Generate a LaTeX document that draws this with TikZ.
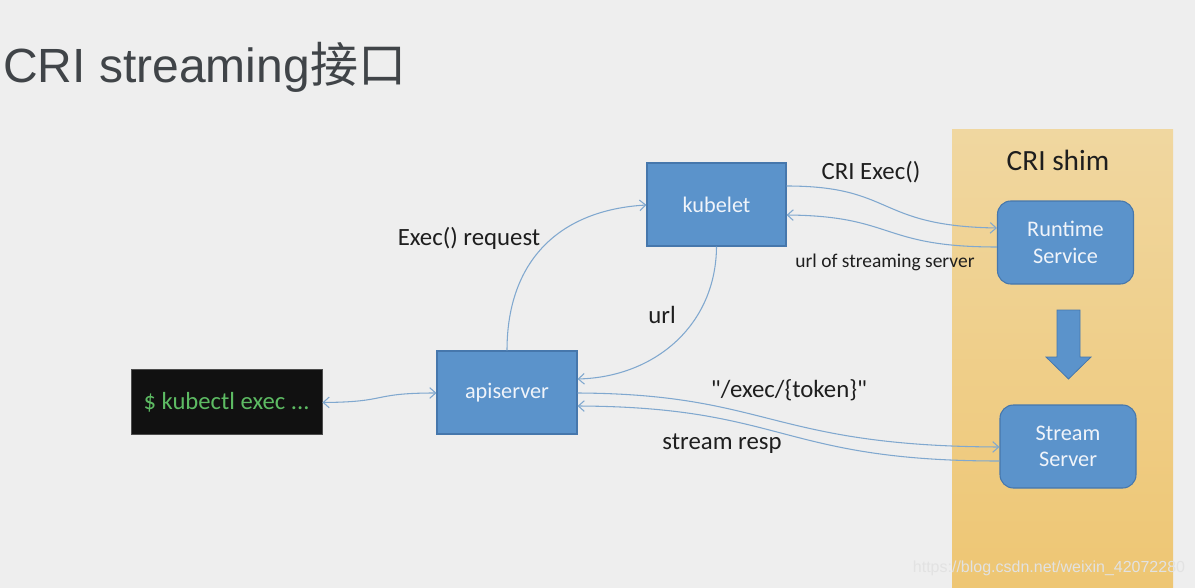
\documentclass[tikz,border=0pt]{standalone}
\usepackage{fontspec}
\setmainfont{Carlito}
\newfontfamily\rawfont{Carlito}[Ligatures=ResetAll]
\newfontfamily\titlefont{Liberation Sans}
\newfontfamily\cjkfont{Noto Sans CJK SC}
\usetikzlibrary{arrows.meta,calc}
\definecolor{bgc}{HTML}{EEEEEE}
\definecolor{boxblue}{HTML}{5B93CB}
\definecolor{boxborder}{HTML}{4677AC}
\definecolor{boxtext}{HTML}{F0F4FA}
\definecolor{linkblue}{HTML}{80A8CF}
\definecolor{labeltext}{HTML}{1E1E1E}
\definecolor{titlegray}{HTML}{404448}
\definecolor{shimtop}{HTML}{F0D7A0}
\definecolor{shimbot}{HTML}{EEC673}
\definecolor{termgreen}{HTML}{5DBB63}
\definecolor{termbg}{HTML}{111111}
\definecolor{wmark}{HTML}{E2E2E2}
\begin{document}
\begin{tikzpicture}[x=0.75pt,y=-0.75pt,
  box/.style={draw=boxborder, fill=boxblue, line width=0.8pt, text=boxtext,
    font=\fontsize{16.7pt}{20pt}\selectfont, inner sep=0pt, align=center},
  conn/.style={draw=linkblue, line width=0.8pt, -{Straight Barb[length=4.5pt,width=8pt]}},
  lbl/.style={text=labeltext, font=\fontsize{18.6pt}{22pt}\selectfont, inner sep=0pt}]
\fill[bgc] (0,0) rectangle (1195,588);
\useasboundingbox (0,0) rectangle (1195,588);
% CRI shim area
\shade[top color=shimtop,bottom color=shimbot] (952,130) rectangle (1173,588);
\node[lbl, font=\fontsize{22pt}{26pt}\selectfont] (shimlbl) at (1058,160) {CRI shim};
% title
\node[anchor=base west, inner sep=0pt, text=titlegray, font=\titlefont\fontsize{36pt}{42pt}\selectfont] (title) at (3,83) {CRI streaming{\cjkfont 接口}};
% boxes
\node[box, minimum width=104.25pt, minimum height=62.25pt] (kubelet) at (716.5,204.5) {kubelet};
\node[box, minimum width=105pt, minimum height=62.25pt] (api) at (507,392.5) {apiserver};
\node[draw=black!70, fill=termbg, text=termgreen, line width=0.6pt, inner sep=0pt,
  font=\fontsize{18.5pt}{22pt}\selectfont, minimum width=143.25pt, minimum height=48.75pt] (kubectl) at (226.5,402) {\$ kubectl exec ...};
\node[box, rounded corners=10pt, minimum width=102pt, minimum height=62.25pt] (runtime) at (1065.5,242.5) {Runtime\\Service};
\node[box, rounded corners=10pt, minimum width=102pt, minimum height=62.25pt] (stream) at (1068,446.5) {Stream\\Server};
% block arrow
\filldraw[fill=boxblue, draw=boxborder, line width=0.6pt]
  (1057,310) -- (1080,310) -- (1080,357) -- (1091,357) -- (1068.5,379) -- (1046,357) -- (1057,357) -- cycle;
% connectors
\draw[conn, {Straight Barb[length=4.5pt,width=8pt]}-{Straight Barb[length=4.5pt,width=8pt]}]
  ($(kubectl.east)+(0,0.5)$) .. controls (390,402) and (370,393) .. ($(api.west)+(0,0.5)$);
\draw[conn] (api.north) .. controls (507,260) and (560,210) .. ($(kubelet.west)+(0,0.5)$);
\draw[conn] (kubelet.south) .. controls (716,325) and (655,377) .. ($(api.east)+(0,-13.5)$);
\draw[conn] ($(kubelet.east)+(0,-18.5)$) .. controls (895,186) and (875,226) .. ($(runtime.west)+(0,-14.5)$);
\draw[conn] ($(runtime.west)+(0,4.5)$) .. controls (880,247) and (895,216) .. ($(kubelet.east)+(0,10.5)$);
\draw[conn] ($(api.east)+(0,0.5)$) .. controls (770,394) and (770,446) .. ($(stream.west)+(0,0.5)$);
\draw[conn] ($(stream.west)+(0,14.5)$) .. controls (780,461) and (785,407) .. ($(api.east)+(0,13.5)$);
% labels
\node[lbl] (l1) at (469,238) {Exec() request};
\node[lbl] (l2) at (662,315) {url};
\node[lbl] (l3) at (871,172) {CRI Exec()};
\node[lbl, font=\fontsize{14.6pt}{18pt}\selectfont] (l4) at (885,262) {url of streaming server};
\node[lbl, font=\rawfont\fontsize{18.6pt}{22pt}\selectfont] (l5) at (789,390) {"/exec/\{token\}"};
\node[lbl] (l6) at (722,444) {stream resp};
% watermark
\node[text=wmark, inner sep=0pt, font=\titlefont\fontsize{12pt}{14pt}\selectfont] (wm) at (1049,568) {https://blog.csdn.net/weixin\_42072280};
\end{tikzpicture}
\end{document}
